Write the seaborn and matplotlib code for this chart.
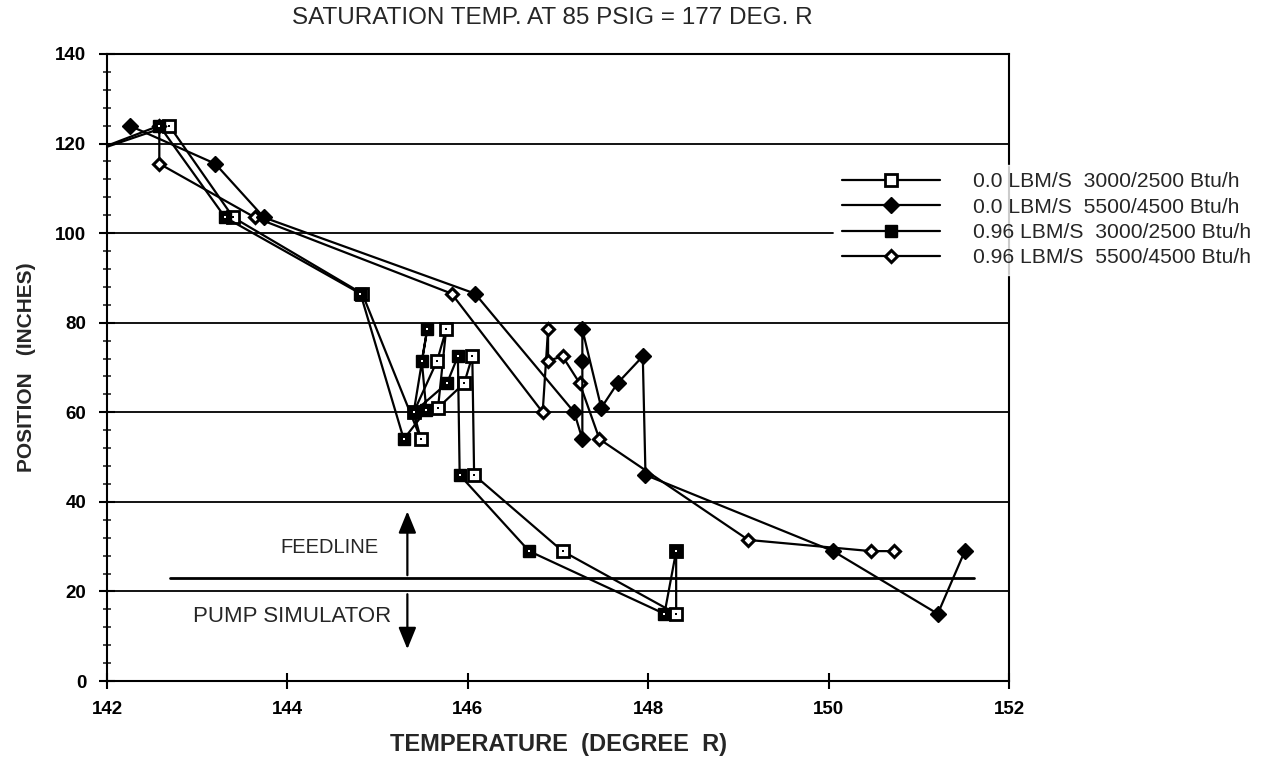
import numpy as np
import pandas as pd
import matplotlib
matplotlib.use("Agg")
import matplotlib.pyplot as plt
import seaborn as sns

# ---------------- data ----------------
title = "SATURATION TEMP. AT 85 PSIG = 177 DEG. R"
x_label = "TEMPERATURE  (DEGREE  R)"
y_label = "POSITION   (INCHES)"
labels = ["0.0 LBM/S  3000/2500 Btu/h",
          "0.0 LBM/S  5500/4500 Btu/h",
          "0.96 LBM/S  3000/2500 Btu/h",
          "0.96 LBM/S  5500/4500 Btu/h"]

# 0.0 LBM/S 3000/2500 (open square)
s1_x = [141.74, 142.69, 143.40, 144.83, 145.48, 145.40, 145.66, 145.76, 145.67, 145.96, 146.05, 146.07, 147.05, 148.31, 148.31]
s1_y = [117.5, 124.0, 103.5, 86.5, 54.0, 60.0, 71.5, 78.5, 61.0, 66.5, 72.5, 46.0, 29.0, 15.0, 29.0]
# 0.0 LBM/S 5500/4500 (filled diamond)
s2_x = [142.25, 143.20, 143.74, 146.08, 147.18, 147.27, 147.27, 147.27, 147.48, 147.66, 147.94, 147.97, 150.05, 151.21, 151.51]
s2_y = [124.0, 115.5, 103.5, 86.5, 60.0, 54.0, 71.5, 78.5, 61.0, 66.5, 72.5, 46.0, 29.0, 15.0, 29.0]
# 0.96 LBM/S 3000/2500 (filled square)
s3_x = [141.74, 142.58, 143.31, 144.81, 145.29, 145.54, 145.49, 145.55, 145.40, 145.77, 145.89, 145.91, 146.68, 148.18, 148.31]
s3_y = [117.5, 124.0, 103.5, 86.5, 54.0, 60.5, 71.5, 78.5, 60.0, 66.5, 72.5, 46.0, 29.0, 15.0, 29.0]
# 0.96 LBM/S 5500/4500 (open diamond)
s4_x = [142.58, 142.58, 143.64, 145.82, 146.83, 146.89, 146.89, 147.05, 147.24, 147.46, 149.11, 150.47, 150.73]
s4_y = [124.0, 115.5, 103.5, 86.5, 60.0, 78.5, 71.5, 72.5, 66.5, 54.0, 31.5, 29.0, 29.0]

x_ticks = [142, 144, 146, 148, 150, 152]
y_ticks = [0, 20, 40, 60, 80, 100, 120, 140]
boundary_y = 23
boundary_x = [142.70, 151.61]
feed_text = "FEEDLINE"
pump_text = "PUMP SIMULATOR"
arrow_x = 145.33

# ---------------- figure ----------------
sns.set_theme(style="white")
plt.rcParams['font.family'] = ['Liberation Sans', 'DejaVu Sans']

W, H = 1287, 775
fig = plt.figure(figsize=(W / 100, H / 100), dpi=100)
ax = fig.add_axes([107 / W, 1 - 681 / H, (1009 - 107) / W, (681 - 54) / H])

lw = 1.6
series = [
    (s1_x, s1_y, dict(marker='s', markersize=8.5, mfc='white', mec='black', mew=2.0), 'black', 3),
    (s2_x, s2_y, dict(marker='D', markersize=8, mfc='black', mec='black', mew=1.0), None, 4),
    (s3_x, s3_y, dict(marker='s', markersize=9, mfc='black', mec='black', mew=1.0), 'white', 5),
    (s4_x, s4_y, dict(marker='D', markersize=6.5, mfc='white', mec='black', mew=2.2), None, 3.5),
]
handles = []
for (xs, ys, mk, dotc, z), lab in zip(series, labels):
    df = pd.DataFrame({"x": xs, "y": ys})
    sns.lineplot(data=df, x="x", y="y", sort=False, estimator=None, ax=ax,
                 color='black', lw=lw, zorder=z, **mk)
    if dotc is not None:
        sns.scatterplot(data=df, x="x", y="y", ax=ax, color=dotc, s=4,
                        marker='s', linewidth=0, zorder=z + 0.1)
    h, = ax.plot([], [], color='black', lw=lw, **mk)
    handles.append(h)

# grid lines
for yv in y_ticks[1:]:
    if yv == 100:
        ax.plot([142, 150.05], [yv, yv], color='black', lw=1.3, zorder=1)
    else:
        ax.axhline(yv, color='black', lw=1.3, zorder=1)

# boundary line feedline / pump simulator
ax.plot(boundary_x, [boundary_y, boundary_y], color='black', lw=2.0, zorder=2)
ax.annotate("", xy=(arrow_x, 38.5), xytext=(arrow_x, boundary_y),
            arrowprops=dict(arrowstyle='-|>,head_length=1.1,head_width=0.45', color='black', lw=1.6))
ax.annotate("", xy=(arrow_x, 6.5), xytext=(arrow_x, 20),
            arrowprops=dict(arrowstyle='-|>,head_length=1.1,head_width=0.45', color='black', lw=1.6))
ax.text(145.01, 29.7, feed_text, ha='right', va='center', fontsize=14.5,
        family=['Liberation Sans Narrow', 'Liberation Sans'])
ax.text(145.15, 14.3, pump_text, ha='right', va='center', fontsize=16)

ax.set_xlim(142, 152)
ax.set_ylim(0, 140)
ax.set_xticks(x_ticks)
ax.set_yticks(y_ticks)
ax.set_yticks(np.arange(0, 141, 4), minor=True)
ax.tick_params(axis='both', which='major', direction='inout', length=12, width=1.5,
               labelsize=13.5, colors='black')
ax.tick_params(axis='x', which='major', pad=8.5, bottom=True)
ax.tick_params(axis='y', which='major', pad=9, left=True)
ax.tick_params(axis='y', which='minor', direction='inout', length=6, width=1.2, left=True)
for t in ax.get_xticklabels() + ax.get_yticklabels():
    t.set_fontweight('bold')
for sp in ax.spines.values():
    sp.set_color('black')
    sp.set_linewidth(1.5)

ax.set_xlabel(x_label, fontsize=17, fontweight='bold', labelpad=11)
ax.set_ylabel(y_label, fontsize=15, fontweight='bold', labelpad=14)
fig.text(552 / W, 1 - 18 / H, title, ha='center', va='center', fontsize=17.5)

leg = fig.legend(handles, labels, loc='upper left', bbox_to_anchor=(835 / W, 1 - 165 / H),
                 frameon=True, fontsize=15.2, handlelength=4.6, handletextpad=1.6,
                 labelspacing=0.3, borderpad=0.35, borderaxespad=0, markerfirst=True)
leg.get_frame().set_facecolor('white')
leg.get_frame().set_edgecolor('white')
leg.get_frame().set_boxstyle('square', pad=0)

fig.savefig("out.png", dpi=100, facecolor='white')
